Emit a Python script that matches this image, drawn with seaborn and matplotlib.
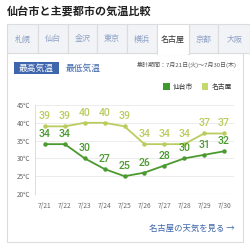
import matplotlib
matplotlib.use("Agg")
import matplotlib.pyplot as plt
from matplotlib.patches import Rectangle
import seaborn as sns
import pandas as pd

dates = ["7/21", "7/22", "7/23", "7/24", "7/25", "7/26", "7/27", "7/28", "7/29", "7/30"]
sendai = [34, 34, 30, 27, 25, 26, 28, 30, 31, 32]
nagoya = [39, 39, 40, 40, 39, 34, 34, 34, 37, 37]
yticks = [20, 25, 30, 35, 40, 45]
tabs = ["札幌", "仙台", "金沢", "東京", "横浜", "名古屋", "京都", "大阪"]
cities = ["仙台市", "名古屋"]

sns.set_theme(style="white")
plt.rcParams['font.family'] = ['Noto Sans CJK JP', 'DejaVu Sans']

W, H = 250, 246
fig = plt.figure(figsize=(2.5, 2.46), dpi=100)
fig.patch.set_facecolor("white")

def fx(x):
    return x / W

def fy(y):
    return 1 - y / H

def rect(x0, y0, x1, y1, fc, ec="none", lw=0.8, z=0):
    fig.patches.append(Rectangle((fx(x0), fy(y1)), fx(x1) - fx(x0), fy(y0) - fy(y1),
                                 transform=fig.transFigure, facecolor=fc, edgecolor=ec,
                                 linewidth=lw, zorder=z))

C_SENDAI = "#4a9a30"
C_NAGOYA = "#b9cd5e"
BLUE = "#3d66ad"
TABTXT = "#8da0c6"
BORDER = "#dcdcdc"

# title
fig.text(fx(7), fy(11), "仙台市と主要都市の気温比較", fontsize=8, fontweight="bold",
         color="#222222", ha="left", va="center")

# panel
rect(7, 53, 243, 242, "white", BORDER, 0.8, -2)

# tabs
edges = [7, 38, 68, 97, 127, 157, 189, 218, 252]
for i, t in enumerate(tabs):
    x0, x1 = edges[i], edges[i + 1]
    sel = (t == "名古屋")
    if sel:
        rect(x0, 24, x1, 53.6, "white", BORDER, 0.8, 2)
        rect(x0 + 0.6, 52, x1 - 0.6, 54.5, "white", "none", 0, 3)
    else:
        rect(x0, 24, x1, 53, "#f1f3f6", BORDER, 0.8, 1)
    fig.text(fx((x0 + x1) / 2), fy(39), t, fontsize=5.8,
             color="#333333" if sel else TABTXT, ha="center", va="center", zorder=4)

# buttons
rect(14, 62, 59, 74, BLUE, "none", 0, 2)
fig.text(fx(36.5), fy(68), "最高気温", fontsize=6.3, color="white", ha="center", va="center", zorder=3)
fig.text(fx(83), fy(68), "最低気温", fontsize=6.3, color=BLUE, ha="center", va="center", zorder=3)
fig.text(fx(237), fy(65), "集計期間：7月21日(火)〜7月30日(木)", fontsize=4.3,
         color="#555555", ha="right", va="center")

# legend
rect(163, 83, 169.5, 89.5, "#3f9a2e", "none", 0, 2)
fig.text(fx(173), fy(86.5), cities[0], fontsize=4.9, color="#333333", ha="left", va="center")
rect(202, 83, 208.5, 89.5, "#c3d96c", "none", 0, 2)
fig.text(fx(212), fy(86.5), cities[1], fontsize=4.9, color="#333333", ha="left", va="center")

# link
fig.text(fx(235), fy(228), "名古屋の天気を見る →", fontsize=6, color=BLUE,
         ha="right", va="center")

# chart
ax = fig.add_axes([fx(35), fy(194), fx(234) - fx(35), fy(105) - fy(194)])
ax.set_zorder(10)
ax.patch.set_alpha(0)
x = list(range(len(dates)))
df = pd.DataFrame({
    "x": x * 2,
    "temp": sendai + nagoya,
    "city": [cities[0]] * len(x) + [cities[1]] * len(x),
})
sns.lineplot(data=df, x="x", y="temp", hue="city", hue_order=cities,
             palette=[C_SENDAI, C_NAGOYA], marker="o", markersize=3.2,
             markeredgewidth=0, linewidth=1.3, legend=False, ax=ax, zorder=3)
for xi, v in zip(x, sendai):
    ax.text(xi, v + 1.4, str(v), color=C_SENDAI, fontsize=7.6, fontweight="medium",
            ha="center", va="bottom", clip_on=False, family="Roboto")
for xi, v in zip(x, nagoya):
    ax.text(xi, v + 1.4, str(v), color=C_NAGOYA, fontsize=7.6, fontweight="medium",
            ha="center", va="bottom", clip_on=False, family="Roboto")

ax.set_xlim(-0.5, len(dates) - 0.5)
ax.set_ylim(20, 45)
ax.set_yticks(yticks)
ax.set_yticklabels([f"{v}℃" for v in yticks], fontsize=4.6, color="#666666")
ax.set_xticks(x)
ax.set_xticklabels(dates, fontsize=4.8, color="#666666")
ax.tick_params(axis="both", length=0)
ax.tick_params(axis="y", pad=3.5)
ax.tick_params(axis="x", pad=6)
ax.set_xlabel("")
ax.set_ylabel("")
for yv in yticks[1:]:
    ax.axhline(yv, color="#ececec", linewidth=0.7, zorder=0)
ax.axhline(20, color="#d8d8d8", linewidth=0.8, zorder=1)
for s in ["top", "right", "bottom"]:
    ax.spines[s].set_visible(False)
ax.spines["left"].set_color("#dddddd")
ax.spines["left"].set_linewidth(0.7)

fig.savefig("out.png", dpi=100, facecolor="white")
